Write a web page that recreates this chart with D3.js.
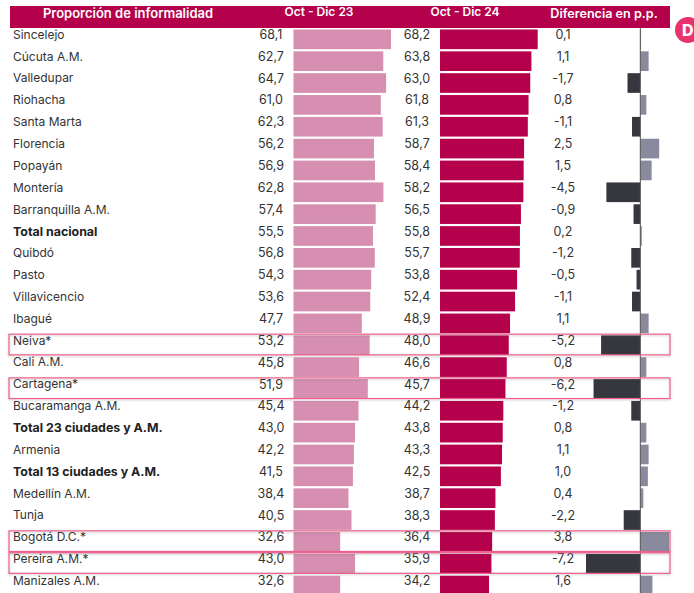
<!DOCTYPE html>
<html>
<head>
<meta charset="utf-8">
<script src="https://cdn.jsdelivr.net/npm/d3@7"></script>
<style>
  body { margin: 0; background: #fff; }
  svg { display: block; font-family: Inter, "Open Sans", sans-serif; }
</style>
</head>
<body>
<div id="grafico"></div>
<script>
// Proporción de informalidad por ciudad
const ciudades = ["Sincelejo", "Cúcuta A.M.", "Valledupar", "Riohacha", "Santa Marta", "Florencia", "Popayán", "Montería", "Barranquilla A.M.", "Total nacional", "Quibdó", "Pasto", "Villavicencio", "Ibagué", "Neiva*", "Cali A.M.", "Cartagena*", "Bucaramanga A.M.", "Total 23 ciudades y A.M.", "Armenia", "Total 13 ciudades y A.M.", "Medellín A.M.", "Tunja", "Bogotá D.C.*", "Pereira A.M.*", "Manizales A.M."];
const oct23 = [68.1, 62.7, 64.7, 61.0, 62.3, 56.2, 56.9, 62.8, 57.4, 55.5, 56.8, 54.3, 53.6, 47.7, 53.2, 45.8, 51.9, 45.4, 43.0, 42.2, 41.5, 38.4, 40.5, 32.6, 43.0, 32.6];
const oct24 = [68.2, 63.8, 63.0, 61.8, 61.3, 58.7, 58.4, 58.2, 56.5, 55.8, 55.7, 53.8, 52.4, 48.9, 48.0, 46.6, 45.7, 44.2, 43.8, 43.3, 42.5, 38.7, 38.3, 36.4, 35.9, 34.2];
const diferencia = [0.1, 1.1, -1.7, 0.8, -1.1, 2.5, 1.5, -4.5, -0.9, 0.2, -1.2, -0.5, -1.1, 1.1, -5.2, 0.8, -6.2, -1.2, 0.8, 1.1, 1.0, 0.4, -2.2, 3.8, -7.2, 1.6];
const totales = ["Total nacional", "Total 23 ciudades y A.M.", "Total 13 ciudades y A.M."];
const resaltadas = ["Neiva*", "Cartagena*", "Bogotá D.C.*", "Pereira A.M.*"];
const encabezados = ["Proporción de informalidad", "Oct - Dic 23", "Oct - Dic 24", "Diferencia en p.p."];

const width = 694;
const height = 593;
const rowStep = 21.85;
const data = ciudades.map((c, i) => ({ ciudad: c, a: oct23[i], b: oct24[i], dif: diferencia[i] }));

const coma = d3.formatLocale({ decimal: ",", thousands: ".", grouping: [3], currency: ["", ""], minus: "-" }).format(".1f");

const svg = d3.select("#grafico")
    .append("svg")
    .attr("width", width)
    .attr("height", height);

svg.append("defs").append("filter")
    .attr("id", "sombra")
    .attr("x", "-2%").attr("y", "-20%")
    .attr("width", "104%").attr("height", "150%")
    .append("feDropShadow")
    .attr("dx", 0).attr("dy", 1)
    .attr("stdDeviation", 1)
    .attr("flood-color", "#555")
    .attr("flood-opacity", 0.35);

const y = d3.scaleBand()
    .domain(ciudades)
    .range([28.4, 28.4 + rowStep * ciudades.length])
    .paddingInner(0.1)
    .paddingOuter(0.05);

const x23 = d3.scaleLinear().domain([0, 68.1]).range([293.5, 391]);
const x24 = d3.scaleLinear().domain([0, 68.2]).range([440, 537.7]);
const xDif = d3.scaleLinear().domain([-7.2, 3.8]).range([586, 669]);

// encabezado
svg.append("rect")
    .attr("x", 10).attr("y", 6)
    .attr("width", 660).attr("height", 22)
    .attr("fill", "#b5004b");

svg.selectAll(".encabezado")
    .data(encabezados)
    .enter()
    .append("text")
    .attr("class", "encabezado")
    .attr("x", (d, i) => [128, 319, 465, 604][i])
    .attr("y", (d, i) => [17.5, 16, 16, 17.5][i])
    .attr("text-anchor", "middle")
    .attr("fill", "#fff")
    .attr("font-size", (d, i) => [13, 12, 12, 12.6][i])
    .attr("font-weight", 600)
    .text(d => d);

// barras
svg.selectAll(".bar23")
    .data(data)
    .enter()
    .append("rect")
    .attr("class", "bar23")
    .attr("x", x23(0))
    .attr("y", d => y(d.ciudad))
    .attr("width", d => x23(d.a) - x23(0))
    .attr("height", y.bandwidth())
    .attr("fill", "#d68fb0");

svg.selectAll(".bar24")
    .data(data)
    .enter()
    .append("rect")
    .attr("class", "bar24")
    .attr("x", x24(0))
    .attr("y", d => y(d.ciudad))
    .attr("width", d => x24(d.b) - x24(0))
    .attr("height", y.bandwidth())
    .attr("fill", "#b5004b");

svg.selectAll(".barDif")
    .data(data)
    .enter()
    .append("rect")
    .attr("class", "barDif")
    .attr("x", d => Math.min(xDif(0), xDif(d.dif)))
    .attr("y", d => y(d.ciudad))
    .attr("width", d => Math.abs(xDif(d.dif) - xDif(0)))
    .attr("height", y.bandwidth())
    .attr("fill", d => d.dif < 0 ? "#36363f" : "#8a8a9e");

svg.append("line")
    .attr("x1", xDif(0)).attr("x2", xDif(0))
    .attr("y1", 28).attr("y2", height)
    .attr("stroke", "#555")
    .attr("stroke-width", 1);

// textos de cada fila
const fila = svg.selectAll(".fila")
    .data(data)
    .enter()
    .append("g")
    .attr("class", "fila")
    .attr("transform", d => `translate(0,${y(d.ciudad) + y.bandwidth() / 2 - 4.8})`)
    .attr("font-size", 12)
    .attr("fill", "#333");

fila.append("text")
    .attr("x", 13)
    .attr("dy", "0.35em")
    .attr("font-size", d => totales.includes(d.ciudad) ? 12.4 : 12)
    .attr("font-weight", d => totales.includes(d.ciudad) ? 700 : 400)
    .attr("fill", d => totales.includes(d.ciudad) ? "#222" : "#333")
    .text(d => d.ciudad);

fila.append("text")
    .attr("x", 271)
    .attr("dy", "0.35em")
    .attr("text-anchor", "middle")
    .attr("font-size", 12.5)
    .text(d => coma(d.a));

fila.append("text")
    .attr("x", 417)
    .attr("dy", "0.35em")
    .attr("text-anchor", "middle")
    .attr("font-size", 12.5)
    .text(d => coma(d.b));

fila.append("text")
    .attr("x", 563)
    .attr("dy", "0.35em")
    .attr("text-anchor", "middle")
    .attr("font-size", 12.5)
    .text(d => coma(d.dif));

// recuadros de las ciudades con cambio significativo
svg.selectAll(".recuadro")
    .data(resaltadas)
    .enter()
    .append("rect")
    .attr("class", "recuadro")
    .attr("x", 9)
    .attr("y", d => y(d) - 1.2)
    .attr("width", 661)
    .attr("height", y.bandwidth() + 1)
    .attr("fill", "none")
    .attr("stroke", "#ee5f8d")
    .attr("stroke-width", 1.2)
    .attr("filter", "url(#sombra)");

// logo
svg.append("circle")
    .attr("cx", 688).attr("cy", 30).attr("r", 13)
    .attr("fill", "#e8336d");

svg.append("text")
    .attr("x", 682).attr("y", 36)
    .attr("fill", "#fff")
    .attr("font-size", 16)
    .attr("font-weight", 800)
    .text("D");
</script>
</body>
</html>
